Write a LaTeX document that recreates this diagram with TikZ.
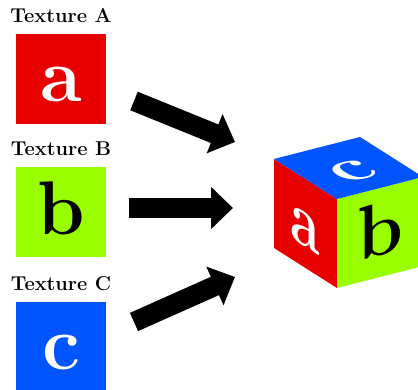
\documentclass[tikz,border=0pt]{standalone}
\usepackage{fontspec}
\usepackage{tikz}
\usetikzlibrary{calc,arrows.meta,positioning}

\definecolor{texred}{RGB}{230,0,0}
\definecolor{texgreen}{RGB}{153,255,0}
\definecolor{texblue}{RGB}{0,85,255}

\tikzset{
  texsq/.style={minimum size=90pt, inner sep=0pt, outer sep=0pt},
  texlabel/.style={font=\fontsize{20}{24}\selectfont\bfseries, inner sep=0pt},
  letter/.style={font=\fontsize{76}{76}\selectfont\bfseries, inner sep=0pt, anchor=base},
  bigarrow/.style={line width=20pt, -{Triangle[width=41pt,length=22pt]}},
}

\begin{document}
\begin{tikzpicture}[x=1pt, y=1pt]
  \useasboundingbox (0,0) rectangle (418,390);

  % the three flat textures
  \foreach \n/\l/\y/\col/\lcol in {A/a/311/texred/white, B/b/178/texgreen/black, C/c/43/texblue/white}{
    \node[texsq, fill=\col] (sq\n) at (61,\y) {};
    \node[texlabel, above=11pt of sq\n] (lbl\n) {Texture \n};
    \node[letter, text=\lcol] (let\n) at ([yshift=22pt]sq\n.south) {\l};
  }

  % arrows towards the cube
  \coordinate (tailA) at (134,289);
  \coordinate (headA) at (235,248);
  \coordinate (tailB) at (129,182);
  \coordinate (headB) at (233,182);
  \coordinate (tailC) at (134,68);
  \coordinate (headC) at (235,113);
  \foreach \n in {A,B,C}
    \draw[bigarrow] (tail\n) -- (head\n);

  % cube corners
  \coordinate (ft) at (337,191);
  \coordinate (fb) at (337,102);
  \coordinate (lt) at (274,231);
  \coordinate (lb) at (274,142);
  \coordinate (bt) at (360,253);
  \coordinate (rt) at (423,213);
  \coordinate (rb) at (423,124);

  \fill[texred] (ft) -- (fb) -- (lb) -- (lt) -- cycle;
  \fill[texgreen] (ft) -- (fb) -- (rb) -- (rt) -- cycle;
  \fill[texblue] (ft) -- (rt) -- (bt) -- (lt) -- cycle;

  % letters mapped onto the faces
  \begin{scope}[shift={(305.5,166.5)}, cm={0.708,-0.449,0,1,(0,0)}]
    \node[letter, text=white, transform shape] (faceA) at (0,-23) {a};
  \end{scope}
  \begin{scope}[shift={(380,157.5)}, cm={0.966,0.247,0,1,(0,0)}]
    \node[letter, text=black, transform shape] (faceB) at (0,-23) {b};
  \end{scope}
  \begin{scope}[shift={(348.5,222)}, cm={0.966,0.247,-0.708,0.449,(0,0)}]
    \node[letter, text=white, transform shape] (faceC) at (0,-23) {c};
  \end{scope}
\end{tikzpicture}
\end{document}
